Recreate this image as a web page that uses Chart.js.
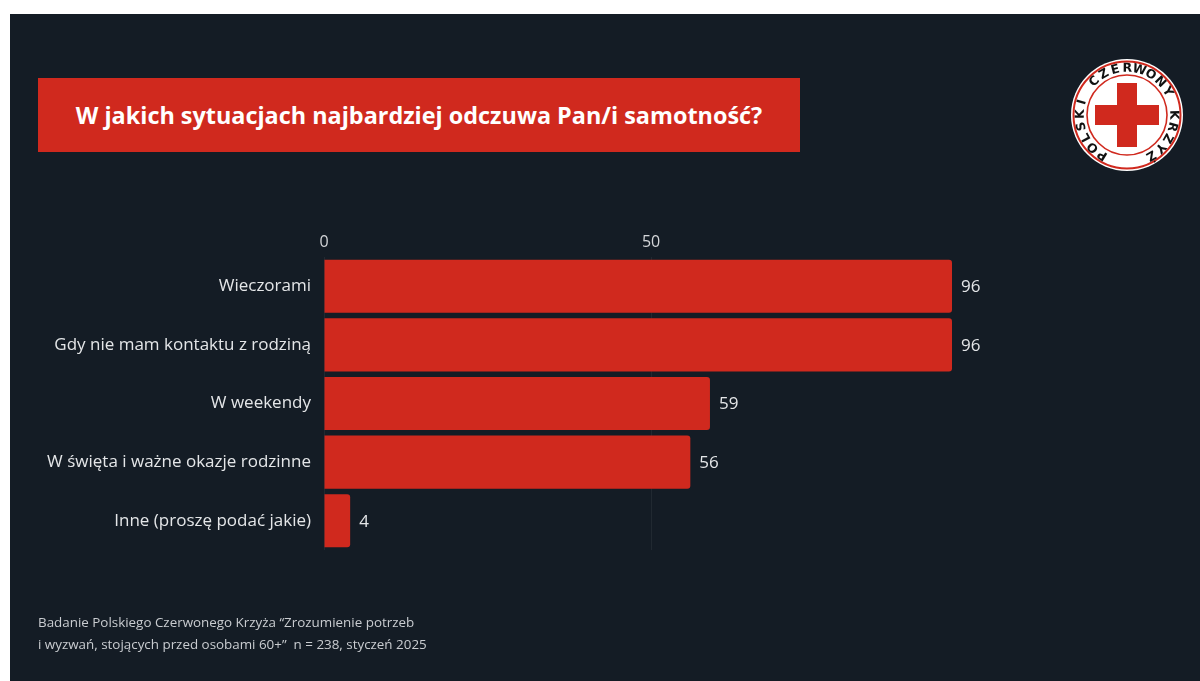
<!DOCTYPE html>
<html>
<head>
<meta charset="utf-8">
<script src="https://cdn.jsdelivr.net/npm/chart.js@4"></script>
<style>
  body { margin: 0; background: #fff; font-family: "Open Sans", sans-serif; }
  #page { position: absolute; left: 10px; top: 14px; width: 1190px; height: 667px; background: #141c25; }
  #title { position: absolute; left: 38px; top: 78px; width: 762px; height: 74px; background: #d0291e;
           color: #fff; font-weight: 700; font-size: 23.4px; line-height: 74px; text-align: center; }
  #chartBox { position: absolute; left: 0; top: 0; width: 1200px; height: 681px; }
  #logo { position: absolute; left: 1065px; top: 53px; }
  #footer { position: absolute; left: 38px; top: 611px; color: #c9ccd0; font-size: 13.4px; line-height: 22px; }
</style>
</head>
<body>
<div id="page"></div>
<div id="title">W jakich sytuacjach najbardziej odczuwa Pan/i samotność?</div>
<div id="chartBox"><canvas id="myChart"></canvas></div>
<canvas id="logo" width="124" height="124"></canvas>
<div id="footer">Badanie Polskiego Czerwonego Krzyża “Zrozumienie potrzeb<br>i wyzwań, stojących przed osobami 60+”&nbsp; n = 238, styczeń 2025</div>
<script>
const labels = [
    'Wieczorami',
    'Gdy nie mam kontaktu z rodziną',
    'W weekendy',
    'W święta i ważne okazje rodzinne',
    'Inne (proszę podać jakie)'
];
const values = [96, 96, 59, 56, 4];

const red = '#d0291e';

// numbers at the end of each bar
const valueLabels = {
    id: 'valueLabels',
    afterDatasetsDraw(chart) {
        const ctx = chart.ctx;
        const meta = chart.getDatasetMeta(0);
        ctx.save();
        ctx.font = '17px "Open Sans"';
        ctx.fillStyle = '#e4e6e8';
        ctx.textBaseline = 'middle';
        meta.data.forEach((bar, i) => {
            ctx.fillText(values[i], bar.x + 9, bar.y + 1);
        });
        ctx.restore();
    }
};

const config = {
    type: 'bar',
    data: {
        labels: labels,
        datasets: [{
            data: values,
            backgroundColor: red,
            borderRadius: 3,
            barPercentage: 0.906,
            categoryPercentage: 1
        }]
    },
    options: {
        indexAxis: 'y',
        responsive: false,
        animation: false,
        layout: { padding: { top: 230, bottom: 131, left: 0, right: 248 } },
        plugins: { legend: { display: false }, tooltip: { enabled: false } },
        scales: {
            x: {
                position: 'top',
                min: 0,
                max: 96,
                border: { display: false },
                grid: { color: 'rgba(255,255,255,0.06)', drawTicks: false },
                ticks: { stepSize: 50, includeBounds: false, padding: 5, color: '#d4d6d9',
                         font: { family: 'Open Sans', size: 16 } },
                afterFit(scale) { scale.height = 27; }
            },
            y: {
                border: { display: false },
                grid: { display: false, drawTicks: false },
                ticks: { padding: 13, color: '#e4e6e8', font: { family: 'Open Sans', size: 17 } },
                afterFit(scale) { scale.width = 324; }
            }
        }
    },
    plugins: [valueLabels]
};

const cv = document.getElementById('myChart');
cv.width = 1200; cv.height = 681;
cv.style.width = '1200px'; cv.style.height = '681px';
new Chart(cv, config);

// logo of the Polish Red Cross
function drawLogo() {
    const c = document.getElementById('logo').getContext('2d');
    const cx = 62, cy = 62;
    c.fillStyle = '#fff';
    c.beginPath(); c.arc(cx, cy, 56, 0, Math.PI * 2); c.fill();
    c.strokeStyle = red;
    c.lineWidth = 2;
    c.beginPath(); c.arc(cx, cy, 53.5, 0, Math.PI * 2); c.stroke();
    c.lineWidth = 1.6;
    c.beginPath(); c.arc(cx, cy, 40, 0, Math.PI * 2); c.stroke();
    c.fillStyle = red;
    c.fillRect(cx - 10, cy - 32, 20, 64);
    c.fillRect(cx - 32, cy - 10, 64, 20);

    const text = 'POLSKI CZERWONY KRZYŻ';
    c.font = 'bold 12.5px "DejaVu Sans"';
    c.fillStyle = '#111';
    c.textAlign = 'center';
    c.textBaseline = 'middle';
    const start = Math.PI * 0.675, end = Math.PI * 2.33;
    const r = 46.5;
    const step = (end - start) / (text.length - 1);
    for (let i = 0; i < text.length; i++) {
        const a = start + step * i;
        c.save();
        c.translate(cx + r * Math.cos(a), cy + r * Math.sin(a));
        c.rotate(a + Math.PI / 2);
        c.fillText(text[i], 0, 0);
        c.restore();
    }
}
drawLogo();
</script>
</body>
</html>
